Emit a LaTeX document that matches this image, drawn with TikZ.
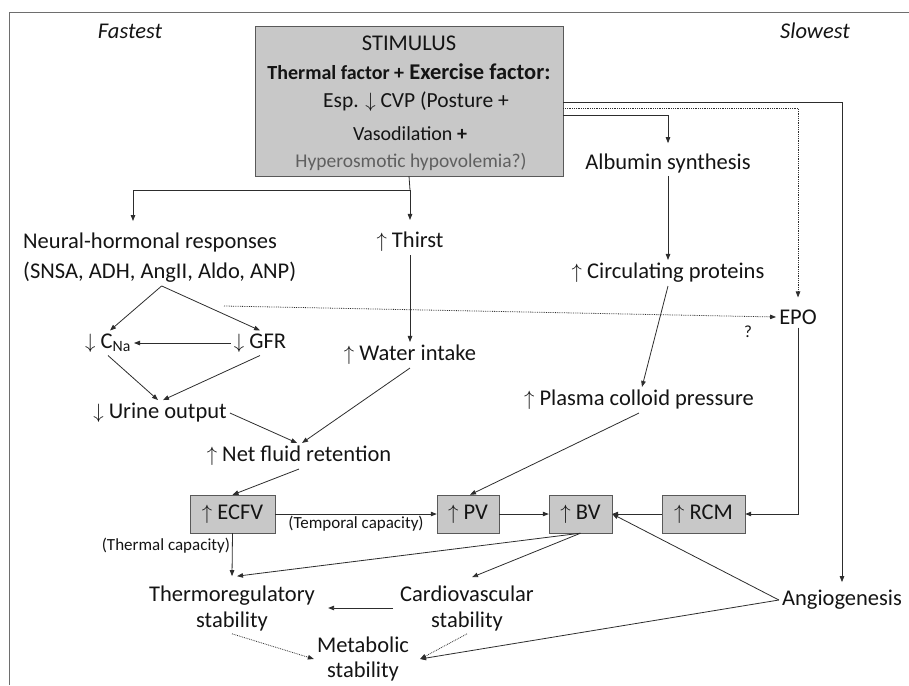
\documentclass[tikz,border=0pt]{standalone}
\usepackage{fontspec}
\setmainfont{Carlito}
\usetikzlibrary{arrows.meta}
\definecolor{boxgray}{RGB}{200,200,200}
\definecolor{linegray}{RGB}{45,45,45}
\definecolor{hypogray}{RGB}{95,95,95}
\definecolor{framegray}{RGB}{110,110,110}
\tikzset{
  txt/.style={font=\fontsize{22.5}{26}\selectfont, inner sep=3pt, text=black!92},
  sbox/.style={txt, draw=black!65, fill=boxgray, minimum height=38pt, inner sep=0pt},
  small/.style={font=\fontsize{17}{20}\selectfont, inner sep=1pt, text=black!92},
  arr/.style={draw=linegray, line width=0.8pt, -{Triangle[length=6pt,width=4.5pt]}},
  dotarr/.style={arr, densely dotted},
  ln/.style={draw=linegray, line width=0.8pt},
}
\begin{document}
\begin{tikzpicture}[x=1pt,y=-1pt]
    \useasboundingbox (0,0) rectangle (909,685);
    \draw[framegray, line width=1pt] (9,685) -- (9,13) -- (909,13);

    \node[txt, font=\fontsize{22.5}{26}\itshape] (fast) at (130,31) {Fastest};
    \node[txt, font=\fontsize{22.5}{26}\itshape] (slow) at (815,31) {Slowest};

    \node[draw=black!65, fill=boxgray, minimum width=308pt, minimum height=150pt] (stim) at (409,101) {};
    \node[txt, anchor=base] (stima) at (409,51) {STIMULUS};
    \node[txt, anchor=base] (stimb) at (409,79) {\bfseries{\fontsize{20}{22}\selectfont Thermal factor +} Exercise factor:};
    \node[txt, anchor=base, font=\fontsize{21.5}{24}\selectfont] (stimc) at (416,107) {Esp. $\downarrow$ CVP (Posture +};
    \node[txt, anchor=base, font=\fontsize{20}{22}\selectfont] (stimd) at (410,140) {Vasodilation \textbf{+}};
    \node[txt, anchor=base, font=\fontsize{19.5}{22}\selectfont, text=hypogray] (stime) at (411,167) {Hyperosmotic hypovolemia?)};
    \coordinate (split) at (410,190);

    \node[txt, align=left, anchor=west, font=\fontsize{22.5}{30}\selectfont] (neural) at (20,258) {Neural-hormonal responses\\(SNSA, ADH, AngII, Aldo, ANP)};
    \node[txt] (thirst) at (410,242) {$\uparrow$ Thirst};
    \node[txt] (alb) at (668,163) {Albumin synthesis};
    \node[txt] (circ) at (668,273) {$\uparrow$ Circulating proteins};
    \node[txt] (plasma) at (639,400) {$\uparrow$ Plasma colloid pressure};
    \node[txt] (epo) at (798,317) {EPO};
    \node[small] (q) at (748,332) {?};
    \node[txt] (cna) at (108,343) {$\downarrow$ C\textsubscript{Na}};
    \node[txt] (gfr) at (260,343) {$\downarrow$ GFR};
    \node[txt] (water) at (410,355) {$\uparrow$ Water intake};
    \node[txt] (urine) at (160,413) {$\downarrow$ Urine output};
    \node[txt] (net) at (299,456) {$\uparrow$ Net fluid retention};

    \node[sbox, minimum width=85pt] (ecfv) at (232.5,514) {$\uparrow$ ECFV};
    \node[sbox, minimum width=62pt] (pv) at (468,514) {$\uparrow$ PV};
    \node[sbox, minimum width=63pt] (bv) at (580.5,514) {$\uparrow$ BV};
    \node[sbox, minimum width=83pt] (rcm) at (703.5,514) {$\uparrow$ RCM};

    \node[txt, align=center] (thermo) at (232,608) {Thermoregulatory\\stability};
    \node[txt, align=center] (cardio) at (467,608) {Cardiovascular\\stability};
    \node[txt, align=center, font=\fontsize{22.5}{25}\selectfont] (meta) at (363,659) {Metabolic\\stability};
    \node[txt] (angio) at (842,600) {Angiogenesis};

    \draw[ln] (stim.south) -- (split);
    \draw[arr] (split) -| ([xshift=113pt,yshift=9pt]neural.north west);
    \draw[arr] (split) -- ([yshift=9pt]thirst.north);
    \draw[arr] ([yshift=-14pt]stim.east) -| ([yshift=7pt]alb.north);
    \draw[dotarr] ([yshift=-7pt]stim.east) -| ([yshift=9pt]epo.north);
    \draw[arr] ([yshift=-1pt]stim.east) -| ([yshift=5pt]angio.north);

    \draw[arr] (alb.south) -- (circ.north);
    \draw[arr] (circ.south) -- ([xshift=3pt]plasma.north);
    \draw[arr] (plasma.south) -- ([xshift=2pt]pv.north);

    \draw[arr] ([xshift=2pt]neural.south) -- ([xshift=2pt]cna.north);
    \draw[arr] ([xshift=2pt]neural.south) -- (gfr.north);
    \coordinate (nhdot) at (224,306);
    \draw[dotarr] (nhdot) -- (epo.west);
    \draw[arr] (gfr.west) -- (cna.east);
    \draw[arr] (cna.south) -- ([xshift=-2pt]urine.north);
    \draw[arr] (gfr.south) -- ([xshift=3pt]urine.north);
    \draw[arr] (thirst.south) -- (water.north);
    \draw[arr] (urine.east) -- ([xshift=-2pt]net.north);
    \draw[arr] (water.south) -- ([xshift=3pt]net.north);
    \draw[arr] (net.south) -- (ecfv.north);

    \draw[arr] (ecfv.east) -- node[small, below=1pt, pos=0.5] (temporal) {(Temporal capacity)} (pv.west);
    \draw[arr] (pv.east) -- (bv.west);
    \draw[arr] (rcm.west) -- (bv.east);
    \draw[arr] (epo.south) |- (rcm.east);
    \draw[arr] (angio.west) -- (bv.east);
    \draw[arr] (angio.west) -- ([xshift=8pt]meta.east);

    \draw[arr] (ecfv.south) -- node[small, left=1pt, pos=0.3] (thermal) {(Thermal capacity)} ([yshift=6pt]thermo.north);
    \draw[arr] (bv.south) -- ([xshift=5pt,yshift=6pt]thermo.north);
    \draw[arr] (bv.south) -- ([xshift=5pt,yshift=5pt]cardio.north);
    \draw[arr] ([xshift=-4pt]cardio.west) -- ([xshift=10pt]thermo.east);
    \draw[dotarr] (thermo.south) -- (meta.west);
    \draw[dotarr] (cardio.south) -- ([xshift=8pt]meta.east);
\end{tikzpicture}
\end{document}
